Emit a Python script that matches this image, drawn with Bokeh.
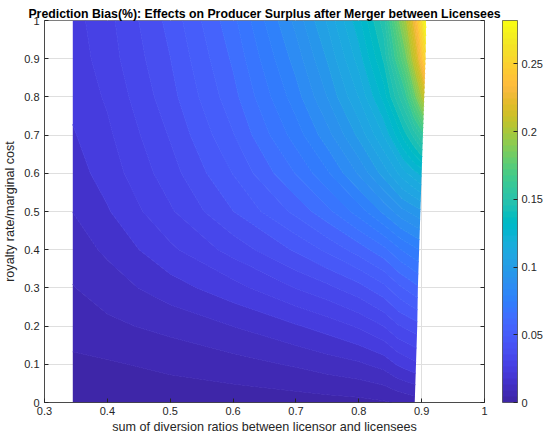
import numpy as np
from bokeh.plotting import figure
from bokeh.models import ColorBar, LinearColorMapper, FixedTicker, LinearAxis
from bokeh.embed import file_html
from bokeh.resources import INLINE

# ---- text / tick data ----
title_text = "Prediction Bias(%): Effects on Producer Surplus after Merger between Licensees"
x_label_text = "sum of diversion ratios between licensor and licensees"
y_label_text = "royalty rate/marginal cost"
x_ticks = [0.3, 0.4, 0.5, 0.6, 0.7, 0.8, 0.9, 1.0]
x_tick_labels = ["0.3", "0.4", "0.5", "0.6", "0.7", "0.8", "0.9", "1"]
y_ticks = [0.0, 0.1, 0.2, 0.3, 0.4, 0.5, 0.6, 0.7, 0.8, 0.9, 1.0]
y_tick_labels = ["0", "0.1", "0.2", "0.3", "0.4", "0.5", "0.6", "0.7", "0.8", "0.9", "1"]
cb_ticks = [0.0, 0.05, 0.1, 0.15, 0.2, 0.25]
cb_tick_labels = ["0", "0.05", "0.1", "0.15", "0.2", "0.25"]

# ---- field data ----
y_rows = [0.0, 0.1, 0.2, 0.3, 0.4, 0.5, 0.6, 0.7, 0.8, 0.9, 1.0]
x_cols_fixed = [0.345, 0.40, 0.50, 0.60, 0.70, 0.75, 0.80, 0.84]
x_right_edge = [0.889, 0.891, 0.893, 0.894, 0.896, 0.898, 0.900, 0.902, 0.904, 0.906, 0.907]
edge_offsets = [0.03, 0.015, 0.0]
z_rows = [
    [0.0010, 0.0015, 0.002, 0.0025, 0.003, 0.0035, 0.004, 0.005, 0.006, 0.007, 0.008],
    [0.0045, 0.005, 0.007, 0.009, 0.012, 0.014, 0.016, 0.019, 0.023, 0.025, 0.027],
    [0.008, 0.010, 0.013, 0.017, 0.022, 0.025, 0.029, 0.034, 0.039, 0.041, 0.043],
    [0.011, 0.014, 0.020, 0.026, 0.034, 0.038, 0.043, 0.049, 0.055, 0.058, 0.061],
    [0.014, 0.018, 0.027, 0.036, 0.046, 0.052, 0.059, 0.066, 0.073, 0.076, 0.079],
    [0.017, 0.022, 0.033, 0.045, 0.058, 0.066, 0.076, 0.086, 0.094, 0.097, 0.100],
    [0.020, 0.025, 0.037, 0.051, 0.068, 0.078, 0.091, 0.104, 0.116, 0.121, 0.126],
    [0.022, 0.027, 0.040, 0.056, 0.076, 0.088, 0.103, 0.119, 0.138, 0.148, 0.160],
    [0.024, 0.029, 0.043, 0.060, 0.082, 0.096, 0.113, 0.132, 0.160, 0.182, 0.210],
    [0.025, 0.031, 0.045, 0.063, 0.087, 0.102, 0.121, 0.142, 0.185, 0.215, 0.255],
    [0.026, 0.032, 0.047, 0.066, 0.092, 0.108, 0.128, 0.150, 0.205, 0.238, 0.2815],
]
z_max = 0.282
n_levels = 50

parula = [
    "#3e26a8", "#4029b4", "#422ebf", "#4332cb", "#4537d5", "#463cde", "#4741e5", "#4747eb",
    "#484ef0", "#4852f4", "#4758f8", "#465dfa", "#4563fc", "#4269fd", "#3e6ffe", "#3875fe",
    "#327bfc", "#2f81fa", "#2d87f7", "#2d8cf3", "#2b91ee", "#2796eb", "#259be7", "#23a0e4",
    "#20a5e2", "#1ca9df", "#18addb", "#12b1d6", "#08b4d0", "#01b8ca", "#02bac3", "#0bbdbc",
    "#19bfb6", "#24c1ae", "#2cc3a7", "#31c69f", "#37c897", "#3fca8e", "#4acb84", "#57cc7a",
    "#64cd6f", "#72cc64", "#80cc59", "#8fcb4e", "#9dc943", "#abc739", "#b9c431", "#c5c22a",
    "#d1bf27", "#dcbd29", "#e6bb2d", "#efba36", "#f8ba3d", "#febd3c", "#fec338", "#fdc933",
    "#fccf30", "#f9d62d", "#f6dc2a", "#f5e227", "#f4e924", "#f5ef20", "#f7f51b", "#f9fb14",
]

X = np.array([x_cols_fixed + [e - o for o in edge_offsets] for e in x_right_edge])
Y = np.array([[yv] * X.shape[1] for yv in y_rows])
Z = np.array(z_rows)

levels = np.linspace(0.0, z_max, n_levels + 1)
fill_colors = [parula[min(63, int(lv / z_max * 64))] for lv in levels[:-1]]
line_colors = fill_colors + [fill_colors[-1]]

font = "Liberation Sans"
ink = "#262626"

W, H = 545, 436
FL, FT, FW, FH = 44, 20, 440, 382   # frame left/top/width/height in px
p = figure(width=W, height=H, x_range=(0.3, 1.0), y_range=(0.0, 1.0),
           output_backend="svg", toolbar_location=None,
           min_border_left=FL, min_border_right=W - FL - FW,
           min_border_top=FT, min_border_bottom=H - FT - FH)
p.background_fill_color = "white"
p.border_fill_color = "white"
p.outline_line_color = ink
p.outline_line_width = 0.6

p.contour(X, Y, Z, levels, fill_color=fill_colors, line_color=line_colors, line_width=1.0)

p.title.text = title_text
p.title.align = "center"
p.title.text_font = font
p.title.text_font_size = "12.3px"
p.title.text_font_style = "bold"
p.title.text_color = "black"
p.title.standoff = 0

for ax, ticks, labels, lab in [(p.xaxis[0], x_ticks, x_tick_labels, x_label_text),
                               (p.yaxis[0], y_ticks, y_tick_labels, y_label_text)]:
    ax.ticker = FixedTicker(ticks=ticks)
    ax.major_label_overrides = {t: s for t, s in zip(ticks, labels)}
    ax.minor_tick_line_color = None
    ax.major_tick_in = 4
    ax.major_tick_out = 0
    ax.major_tick_line_color = ink
    ax.axis_line_color = ink
    ax.axis_line_width = 0.6
    ax.major_label_text_font = font
    ax.major_label_text_font_size = "11px"
    ax.major_label_text_color = ink
    ax.axis_label = lab
    ax.axis_label_text_font = font
    ax.axis_label_text_font_size = "12.6px"
    ax.axis_label_text_font_style = "normal"
    ax.axis_label_text_color = ink
p.xaxis.major_label_standoff = 4
p.xaxis.axis_label_standoff = 2
p.yaxis.major_label_standoff = 5
p.yaxis.axis_label_standoff = 4

# box ticks on the right side (labels not drawn)
right_ax = LinearAxis(ticker=FixedTicker(ticks=y_ticks), major_label_text_color=None,
                      major_tick_in=4, major_tick_out=0, major_tick_line_color=ink,
                      minor_tick_line_color=None, axis_line_color=ink, axis_line_width=0.6,
                      major_label_standoff=0)
p.add_layout(right_ax, "right")

p.xgrid.ticker = FixedTicker(ticks=x_ticks)
p.ygrid.ticker = FixedTicker(ticks=y_ticks)
p.grid.grid_line_color = "#dfdfdf"
p.grid.grid_line_width = 1

mapper = LinearColorMapper(palette=parula, low=0.0, high=z_max)
cb = ColorBar(color_mapper=mapper, ticker=FixedTicker(ticks=cb_ticks),
              major_label_overrides={t: s for t, s in zip(cb_ticks, cb_tick_labels)},
              location=(FW + 18, 0), width=15, height=FH, padding=0, margin=0,
              major_tick_in=4, major_tick_out=0, major_tick_line_color=ink,
              bar_line_color=ink, bar_line_width=0.6, background_fill_color=None,
              major_label_text_font=font, major_label_text_font_size="11px",
              major_label_text_color=ink, label_standoff=4,
              minor_tick_line_color=None)
p.add_layout(cb, "center")

open("out.html", "w").write(file_html(p, INLINE))
